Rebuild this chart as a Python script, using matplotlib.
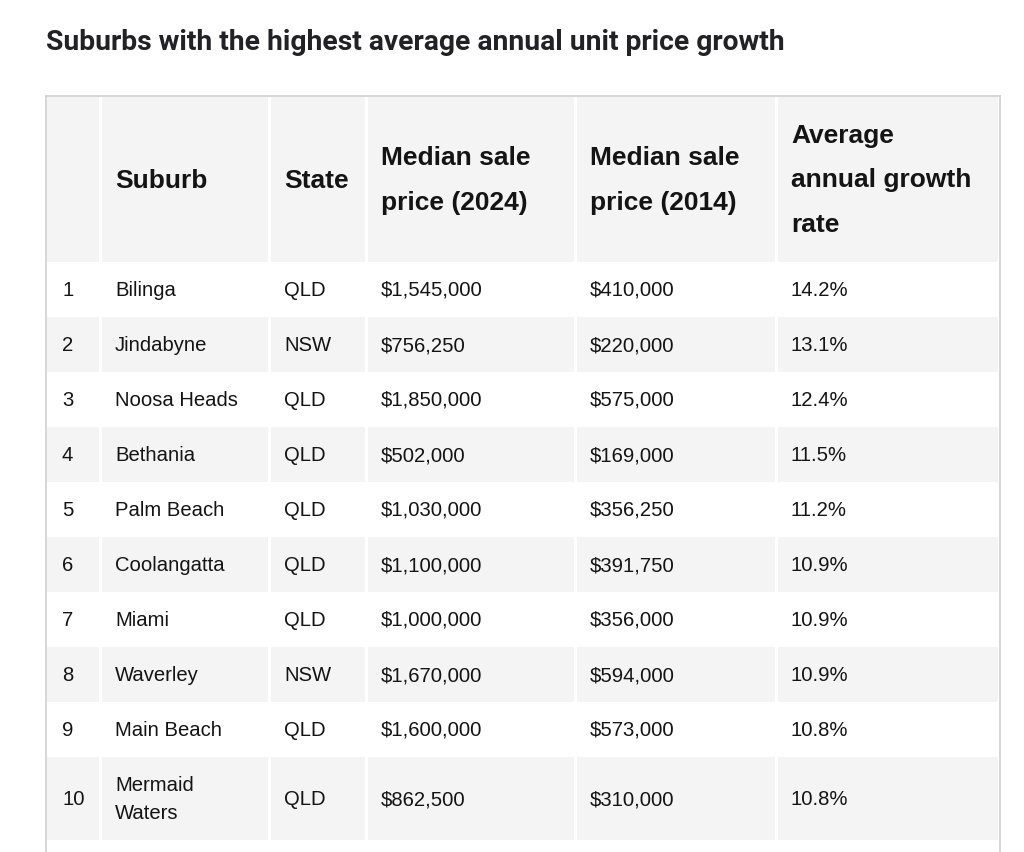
import matplotlib
matplotlib.use("Agg")
import matplotlib.pyplot as plt
from matplotlib.patches import Rectangle

title = "Suburbs with the highest average annual unit price growth"
headers = ["", "Suburb", "State", "Median sale\nprice (2024)", "Median sale\nprice (2014)",
           "Average\nannual growth\nrate"]
ranks = ["1", "2", "3", "4", "5", "6", "7", "8", "9", "10"]
suburbs = ["Bilinga", "Jindabyne", "Noosa Heads", "Bethania", "Palm Beach",
           "Coolangatta", "Miami", "Waverley", "Main Beach", "Mermaid\nWaters"]
states = ["QLD", "NSW", "QLD", "QLD", "QLD", "QLD", "QLD", "NSW", "QLD", "QLD"]
price_2024 = ["$1,545,000", "$756,250", "$1,850,000", "$502,000", "$1,030,000",
              "$1,100,000", "$1,000,000", "$1,670,000", "$1,600,000", "$862,500"]
price_2014 = ["$410,000", "$220,000", "$575,000", "$169,000", "$356,250",
              "$391,750", "$356,000", "$594,000", "$573,000", "$310,000"]
growth = ["14.2%", "13.1%", "12.4%", "11.5%", "11.2%",
          "10.9%", "10.9%", "10.9%", "10.8%", "10.8%"]

W, H = 1024, 852
fig = plt.figure(figsize=(W / 100, H / 100), dpi=100)
ax = fig.add_axes([0, 0, 1, 1])
ax.set_xlim(0, W)
ax.set_ylim(H, 0)
ax.axis("off")

# layout (pixels)
col_edges = [47, 100, 269, 366, 575, 776, 998]
gap = 3
header_top, header_bot = 97, 262
row_h = [55] * 9 + [83]
pad = 15
grey = "#f4f4f4"
border = "#cfcfcf"
txt = "#141414"
font = "Liberation Sans"

# header cells
for i in range(len(col_edges) - 1):
    x0 = col_edges[i] + (0 if i == 0 else gap / 2)
    x1 = col_edges[i + 1] - (0 if i == len(col_edges) - 2 else gap / 2)
    ax.add_patch(Rectangle((x0, header_top), x1 - x0, header_bot - header_top,
                           facecolor=grey, edgecolor="none", zorder=1))
    ax.text(col_edges[i] + pad, (header_top + header_bot) / 2 + 1, headers[i],
            ha="left", va="center", fontsize=19, fontweight="bold",
            family=font, color=txt, linespacing=2.06, zorder=3)

rows = list(zip(ranks, suburbs, states, price_2024, price_2014, growth))
y = header_bot
for r, (row, h) in enumerate(zip(rows, row_h)):
    if r % 2 == 1:
        for i in range(len(col_edges) - 1):
            x0 = col_edges[i] + (0 if i == 0 else gap / 2)
            x1 = col_edges[i + 1] - (0 if i == len(col_edges) - 2 else gap / 2)
            ax.add_patch(Rectangle((x0, y), x1 - x0, h, facecolor=grey,
                                   edgecolor="none", zorder=1))
    for i, val in enumerate(row):
        ax.text(col_edges[i] + pad, y + h / 2 + 1, val, ha="left", va="center",
                fontsize=14.6, family=font, color=txt, linespacing=1.6, zorder=3)
    y += h

# outer border (table continues past the bottom edge)
ax.plot([46, 46], [96, H + 5], color=border, lw=1.2, zorder=4)
ax.plot([46, 999.5], [96, 96], color=border, lw=1.2, zorder=4)
ax.plot([999.5, 999.5], [96, H + 5], color=border, lw=1.2, zorder=4)

# title, fitted to the reference width
t = ax.text(46, 42, title, ha="left", va="center", fontsize=18,
            fontweight="bold", family="Roboto", color="#222226", zorder=3)
fig.canvas.draw()
w = t.get_window_extent().width
t.set_fontsize(18 * 741 / w)

fig.savefig("out.png", dpi=100)
